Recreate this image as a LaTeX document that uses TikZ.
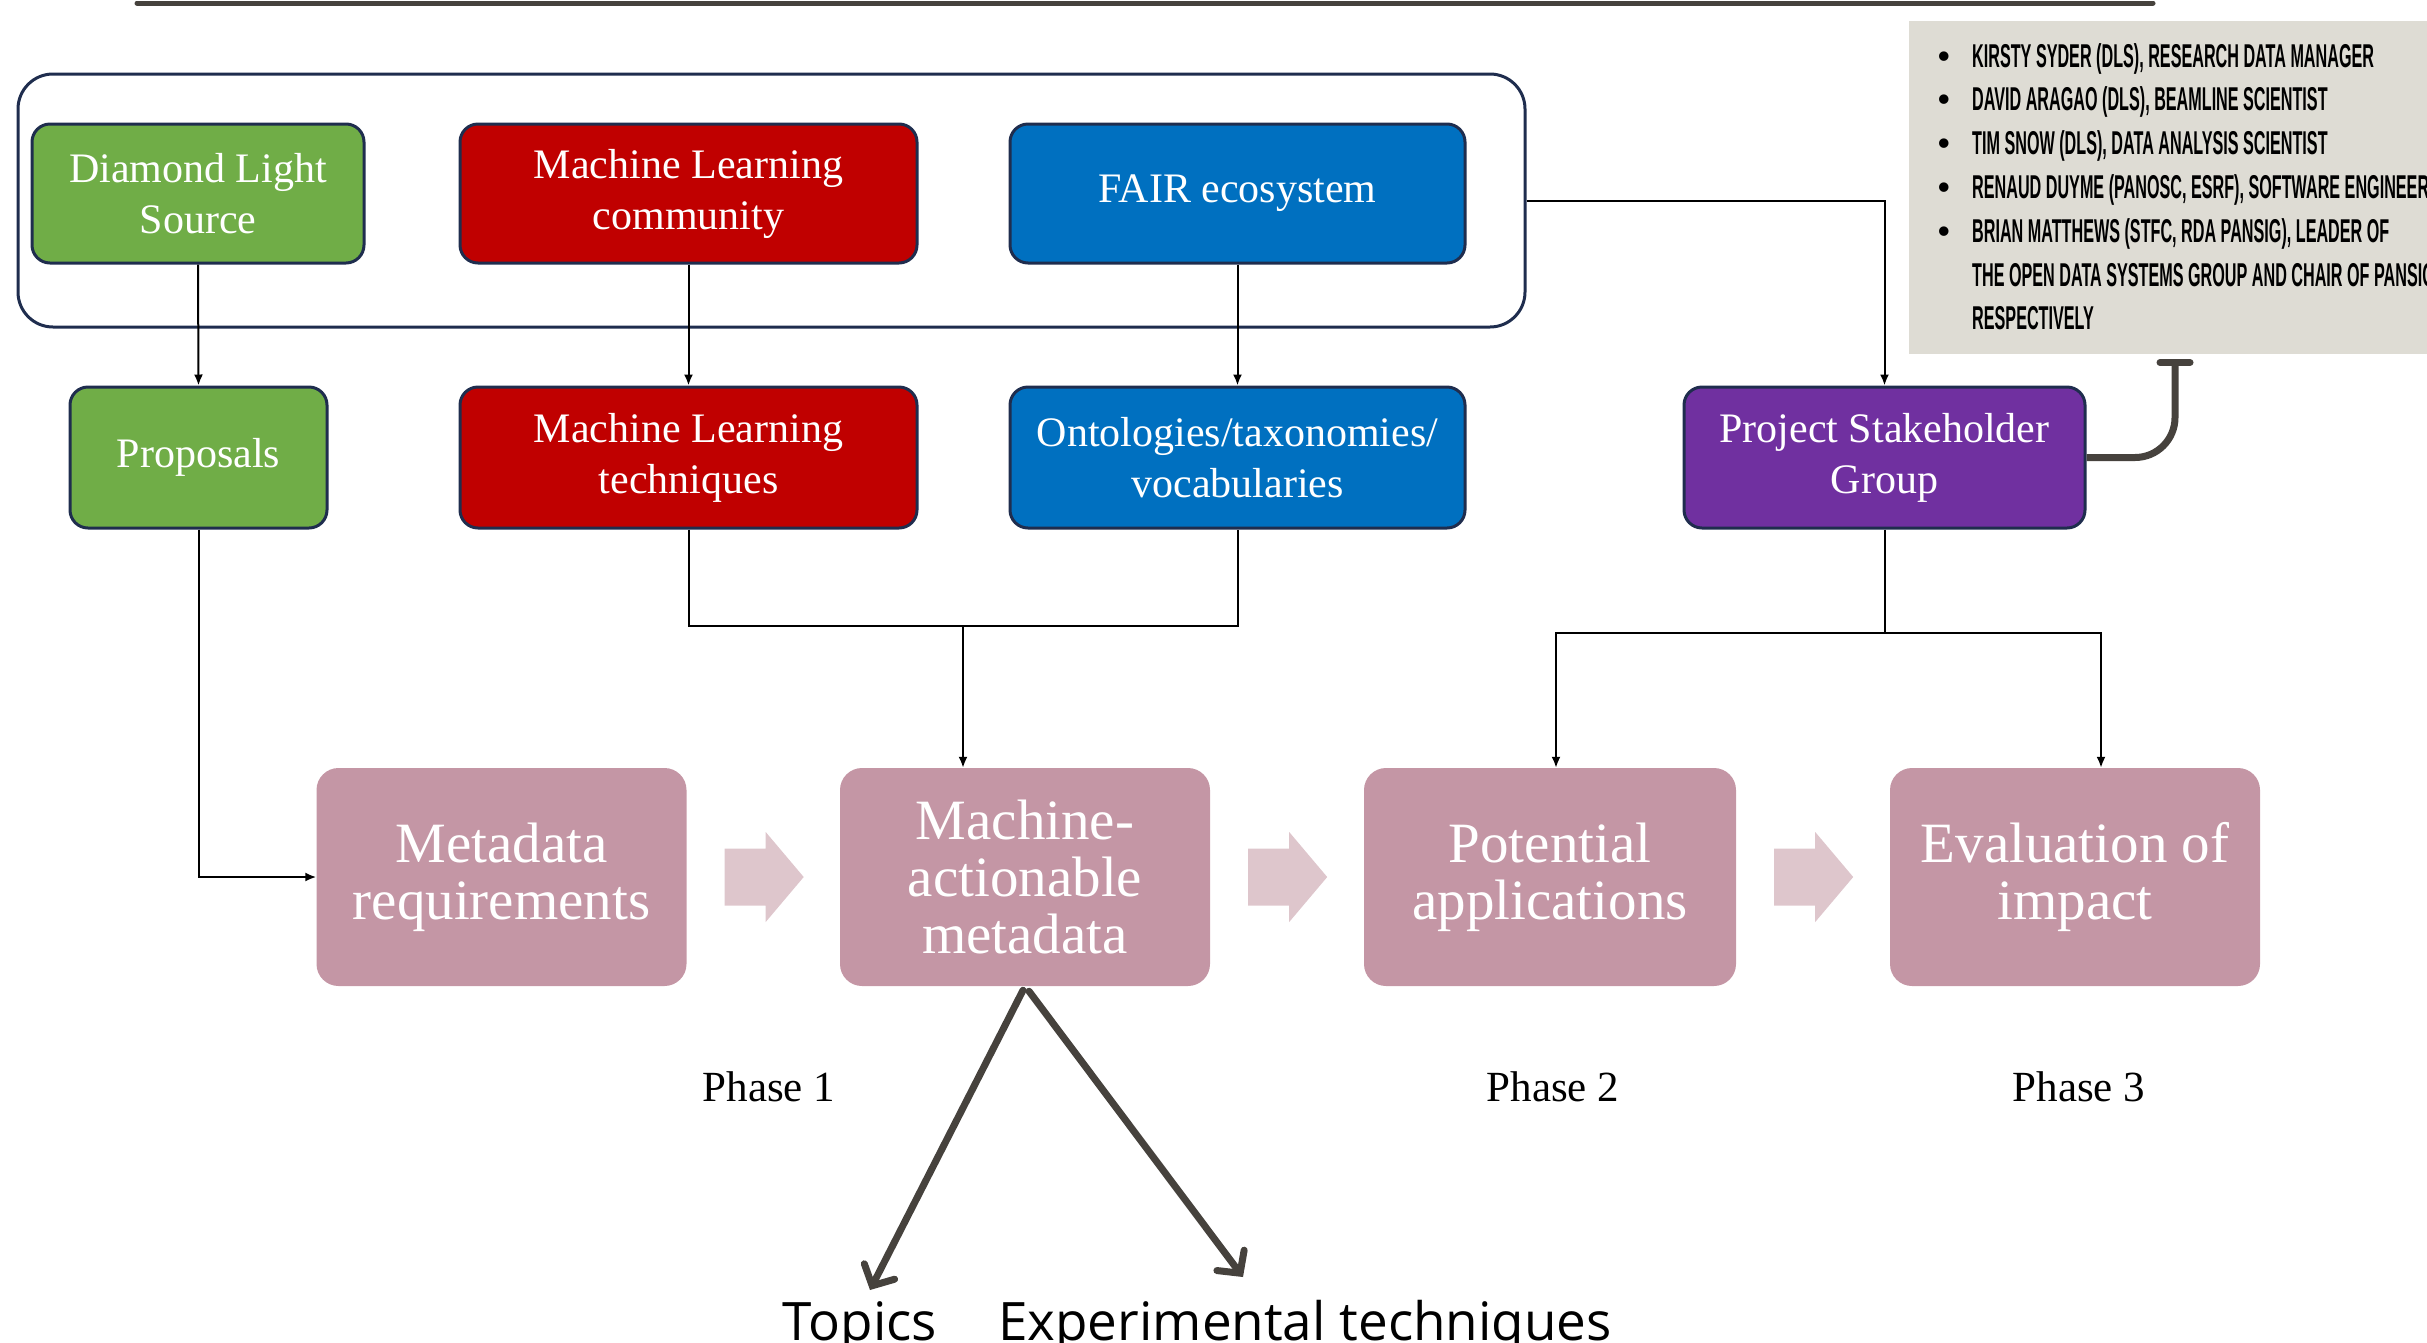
\documentclass[tikz,border=0pt]{standalone}
\usepackage{fontspec}
\setmainfont{Liberation Serif}
\newfontfamily\capsfont{Liberation Sans}
\newfontfamily\labelfont{Open Sans}
\usetikzlibrary{arrows.meta,calc}

\definecolor{dlsgreen}{HTML}{70AD47}
\definecolor{mlred}{HTML}{C00000}
\definecolor{fairblue}{HTML}{0070C0}
\definecolor{psgpurple}{HTML}{7030A0}
\definecolor{navy}{HTML}{1F2D4E}
\definecolor{phasepink}{HTML}{C496A5}
\definecolor{arrowpink}{HTML}{DEC6CC}
\definecolor{panelgrey}{HTML}{DEDCD4}
\definecolor{ink}{HTML}{46423D}

% condensed capitals for the member list
\newcommand\condensed[1]{\scalebox{0.49}[1]{#1}}

\begin{document}
\begin{tikzpicture}[x=1pt,y=-1pt,
  topbox/.style={draw=navy, line width=3pt, rounded corners=18pt, text=white,
    align=center, inner sep=0pt, minimum height=139pt,
    font=\fontsize{42}{51}\selectfont},
  phasebox/.style={fill=phasepink, rounded corners=22pt, text=white, align=center,
    minimum width=370pt, minimum height=218pt, inner sep=0pt,
    font=\fontsize{57}{57}\selectfont},
  link/.style={line width=2pt, -{Latex[length=11pt,width=9pt]}},
  plainlink/.style={line width=2pt},
  bigarrow/.style={draw=ink, line width=7pt, line cap=round,
    -{Straight Barb[length=16pt,width=34pt,line cap=round]}},
  phaselabel/.style={font=\fontsize{43}{43}\selectfont, inner sep=0pt},
  bottomlabel/.style={font=\labelfont\fontsize{53}{53}\selectfont, anchor=base, inner sep=0pt},
]
\useasboundingbox (0,0) rectangle (2427,1342);
\clip (0,0) rectangle (2427,1342);

% rule along the top
\draw[ink, line width=5pt, line cap=round] (137,3) -- (2153,3);

% member panel
\node[fill=panelgrey, anchor=north west, minimum width=530pt, minimum height=333pt,
  inner sep=0pt] (panel) at (1909,21) {};
\node[anchor=base west, inner sep=0pt, font=\capsfont\bfseries\fontsize{33}{43.8}\selectfont]
  (members) at (1938,67) {%
  \begin{tabular}[t]{@{}l@{}l@{}}
  \makebox[34pt][l]{\textbullet} & \condensed{KIRSTY SYDER (DLS), RESEARCH DATA MANAGER}\\
  \makebox[34pt][l]{\textbullet} & \condensed{DAVID ARAGAO (DLS), BEAMLINE SCIENTIST}\\
  \makebox[34pt][l]{\textbullet} & \condensed{TIM SNOW (DLS), DATA ANALYSIS SCIENTIST}\\
  \makebox[34pt][l]{\textbullet} & \condensed{RENAUD DUYME (PANOSC, ESRF), SOFTWARE ENGINEER}\\
  \makebox[34pt][l]{\textbullet} & \condensed{BRIAN MATTHEWS (STFC, RDA PANSIG), LEADER OF}\\
  & \condensed{THE OPEN DATA SYSTEMS GROUP AND CHAIR OF PANSIG}\\
  & \condensed{RESPECTIVELY}
  \end{tabular}};

% grouping frame around the three sources
\node[draw=navy, line width=3pt, rounded corners=35pt, minimum width=1507pt,
  minimum height=253pt, inner sep=0pt] (group) at (771.5,200.5) {};

% first row
\node[topbox, fill=dlsgreen, minimum width=332pt] (dls) at (198,193.5) {Diamond Light\\Source};
\node[topbox, fill=mlred, minimum width=457pt] (mlc) at (688.5,193.5) {Machine Learning\\community};
\node[topbox, fill=fairblue, minimum width=455pt] (fair) at (1237.5,193.5) {FAIR ecosystem};

% second row
\node[topbox, fill=dlsgreen, minimum width=257pt, minimum height=141pt] (prop) at (198.5,457.5) {Proposals};
\node[topbox, fill=mlred, minimum width=457pt, minimum height=141pt] (mlt) at (688.5,457.5) {Machine Learning\\techniques};
\node[topbox, fill=fairblue, minimum width=455pt, minimum height=141pt] (onto) at (1237.5,457.5) {Ontologies/taxonomies/\\vocabularies};
\node[topbox, fill=psgpurple, minimum width=401pt, minimum height=141pt] (psg) at (1884.5,457.5) {Project Stakeholder\\Group};

% phases
\node[phasebox] (mr) at (501.5,877) {Metadata\\requirements};
\node[phasebox] (mam) at (1025,877) {Machine-\\actionable\\metadata};
\node[phasebox, minimum width=372pt] (pa) at (1550,877) {Potential\\applications};
\node[phasebox] (ei) at (2075,877) {Evaluation of\\impact};

% block arrows between phases
\foreach \a in {mr,mam,pa}
  \fill[arrowpink] ($(\a.east)+(38,-28.5)$) -- ++(41,0) -- ++(0,-16.5)
    -- ++(38,45) -- ++(-38,45) -- ++(0,-16.5) -- ++(-41,0) -- cycle;

\node[phaselabel] (ph1) at (769,1087) {Phase 1};
\node[phaselabel] (ph2) at (1553,1087) {Phase 2};
\node[phaselabel] (ph3) at (2079,1087) {Phase 3};

% connectors
\draw[link] (dls.south) -- (prop.north);
\draw[link] (mlc.south) -- (mlt.north);
\draw[link] (fair.south) -- (onto.north);
\draw[link] (group.east) -| (psg.north);
\draw[link] (prop.south) |- (mr.west);

\coordinate (mlbar) at (963,626);
\draw[plainlink] (mlt.south) |- (mlbar) -| (onto.south);
\draw[link] (mlbar) -- (mlbar |- mam.north);

\coordinate (psgbar) at (1884.5,633);
\draw[plainlink] (psg.south) -- (psgbar);
\draw[link] (psgbar) -| ([xshift=6pt]pa.north);
\draw[link] (psgbar) -| ([xshift=26pt]ei.north);

% stakeholder group to member panel
\coordinate (panelTip) at (2175,359);
\draw[ink, line width=7pt, rounded corners=40pt, -{Bar[width=30pt,round]}]
  (psg.east) -- (panelTip |- psg.east) -- (panelTip);

% metadata facets
\node[bottomlabel] (topics) at (860,1340) {Topics};
\node[bottomlabel] (exptech) at (1305,1340) {Experimental techniques};
\coordinate (topicsTip) at (870,1290);
\coordinate (techTip) at (1243,1277);
\draw[bigarrow] ($(mam.south)+(-2,4)$) -- (topicsTip);
\draw[bigarrow] ($(mam.south)+(4,5)$) -- (techTip);
\end{tikzpicture}
\end{document}
